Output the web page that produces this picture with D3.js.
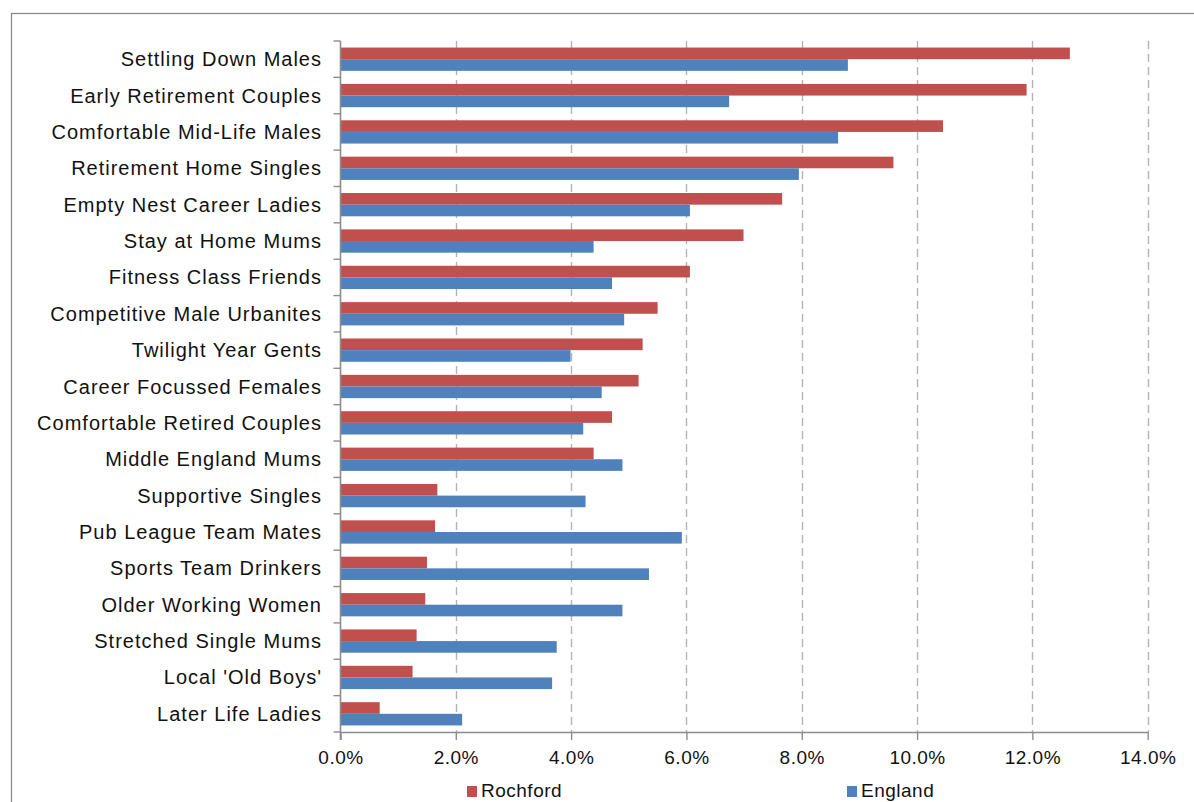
<!DOCTYPE html>
<html>
<head>
<meta charset="utf-8">
<script src="https://cdn.jsdelivr.net/npm/d3@7"></script>
<style>
  html, body { margin: 0; padding: 0; background: #fff; overflow: hidden; }
  svg { display: block; font-family: "Liberation Sans", Arial, sans-serif; }
</style>
</head>
<body>
<svg id="chart" width="1194" height="802"></svg>
<script>
// data (percent of population)
const categories = [
    'Settling Down Males', 'Early Retirement Couples', 'Comfortable Mid-Life Males',
    'Retirement Home Singles', 'Empty Nest Career Ladies', 'Stay at Home Mums',
    'Fitness Class Friends', 'Competitive Male Urbanites', 'Twilight Year Gents',
    'Career Focussed Females', 'Comfortable Retired Couples', 'Middle England Mums',
    'Supportive Singles', 'Pub League Team Mates', 'Sports Team Drinkers',
    'Older Working Women', 'Stretched Single Mums', "Local 'Old Boys'", 'Later Life Ladies'
]
const rochford = [12.65, 11.90, 10.45, 9.59, 7.66, 6.99, 6.06, 5.50, 5.24, 5.17, 4.71, 4.39, 1.68, 1.64, 1.50, 1.47, 1.32, 1.25, 0.68]
const england = [8.80, 6.74, 8.63, 7.95, 6.06, 4.39, 4.71, 4.92, 3.99, 4.53, 4.21, 4.89, 4.25, 5.92, 5.35, 4.89, 3.75, 3.67, 2.11]
const seriesNames = ['Rochford', 'England']
const seriesColors = ['#c0504d', '#4f81bd']
const xTicks = [0, 0.02, 0.04, 0.06, 0.08, 0.10, 0.12, 0.14]

const rows = categories.map((c, i) => ({
    name: c,
    values: [
        { series: 'Rochford', value: rochford[i] / 100 },
        { series: 'England', value: england[i] / 100 }
    ]
}))

const svg = d3.select('#chart')
const margin = { top: 41, left: 340.5, right: 1147.7, bottom: 732 }

// chart frame (only top and left edge are visible in the window)
svg.append('rect')
    .attr('x', 11.5).attr('y', 13.5)
    .attr('width', 1300).attr('height', 900)
    .attr('fill', 'none')
    .attr('stroke', '#8c8c8c')
    .attr('stroke-width', 1.3)

const x = d3.scaleLinear().domain([0, 0.14]).range([margin.left, margin.right])
const y = d3.scaleBand().domain(categories).range([margin.top, margin.bottom]).paddingInner(0.36).paddingOuter(0.18)
const ySeries = d3.scaleBand().domain(seriesNames).range([0, y.bandwidth()])
const color = d3.scaleOrdinal().domain(seriesNames).range(seriesColors)

// dashed gridlines
svg.append('g')
    .selectAll('line')
    .data(xTicks.filter(d => d > 0))
    .join('line')
    .attr('x1', d => Math.round(x(d)) + 0.5)
    .attr('x2', d => Math.round(x(d)) + 0.5)
    .attr('y1', margin.top)
    .attr('y2', margin.bottom)
    .attr('stroke', '#b3b3b3')
    .attr('stroke-width', 1.4)
    .attr('stroke-dasharray', '8,5')

// bars
const groups = svg.append('g')
    .selectAll('g')
    .data(rows)
    .join('g')
    .attr('transform', d => `translate(0,${y(d.name)})`)

groups.selectAll('rect')
    .data(d => d.values)
    .join('rect')
    .attr('x', x(0))
    .attr('y', d => ySeries(d.series))
    .attr('width', d => x(d.value) - x(0))
    .attr('height', ySeries.bandwidth())
    .attr('fill', d => color(d.series))

// x axis
const xAxis = d3.axisBottom(x)
    .tickValues(xTicks)
    .tickFormat(d3.format('.1%'))
    .tickSizeInner(8)
    .tickSizeOuter(0)
    .tickPadding(11)

const gx = svg.append('g')
    .attr('transform', `translate(0,${margin.bottom})`)
    .call(xAxis)
gx.select('.domain').attr('stroke', '#8c8c8c').attr('stroke-width', 1.6)
gx.selectAll('.tick line').attr('stroke', '#8c8c8c').attr('stroke-width', 1.4)
gx.selectAll('.tick text')
    .attr('fill', '#111')
    .attr('font-size', 19)
    .style('letter-spacing', '0.5px')

// y axis: ticks between categories like excel
const yBoundaries = d3.range(categories.length + 1).map(i => margin.top + i * y.step())
svg.append('line')
    .attr('x1', margin.left).attr('x2', margin.left)
    .attr('y1', margin.top).attr('y2', margin.bottom + 8)
    .attr('stroke', '#8c8c8c')
    .attr('stroke-width', 1.6)
svg.append('g')
    .selectAll('line')
    .data(yBoundaries)
    .join('line')
    .attr('x1', margin.left - 7).attr('x2', margin.left)
    .attr('y1', d => d).attr('y2', d => d)
    .attr('stroke', '#8c8c8c')
    .attr('stroke-width', 1.4)

svg.append('g')
    .selectAll('text')
    .data(categories)
    .join('text')
    .attr('x', 322)
    .attr('y', d => y(d) + y.bandwidth() / 2)
    .attr('dy', '0.35em')
    .attr('text-anchor', 'end')
    .attr('fill', '#111')
    .attr('font-size', 20)
    .style('letter-spacing', '1px')
    .text(d => d)

// legend (sits at the very bottom edge of the window)
const legendX = [467, 847]
const legend = svg.append('g')
    .selectAll('g')
    .data(seriesNames)
    .join('g')
    .attr('transform', (d, i) => `translate(${legendX[i]},786)`)
legend.append('rect')
    .attr('width', 10).attr('height', 11)
    .attr('fill', d => color(d))
legend.append('text')
    .attr('x', 14)
    .attr('y', 11)
    .attr('fill', '#111')
    .attr('font-size', 19)
    .style('letter-spacing', '0.5px')
    .text(d => d)
</script>
</body>
</html>
